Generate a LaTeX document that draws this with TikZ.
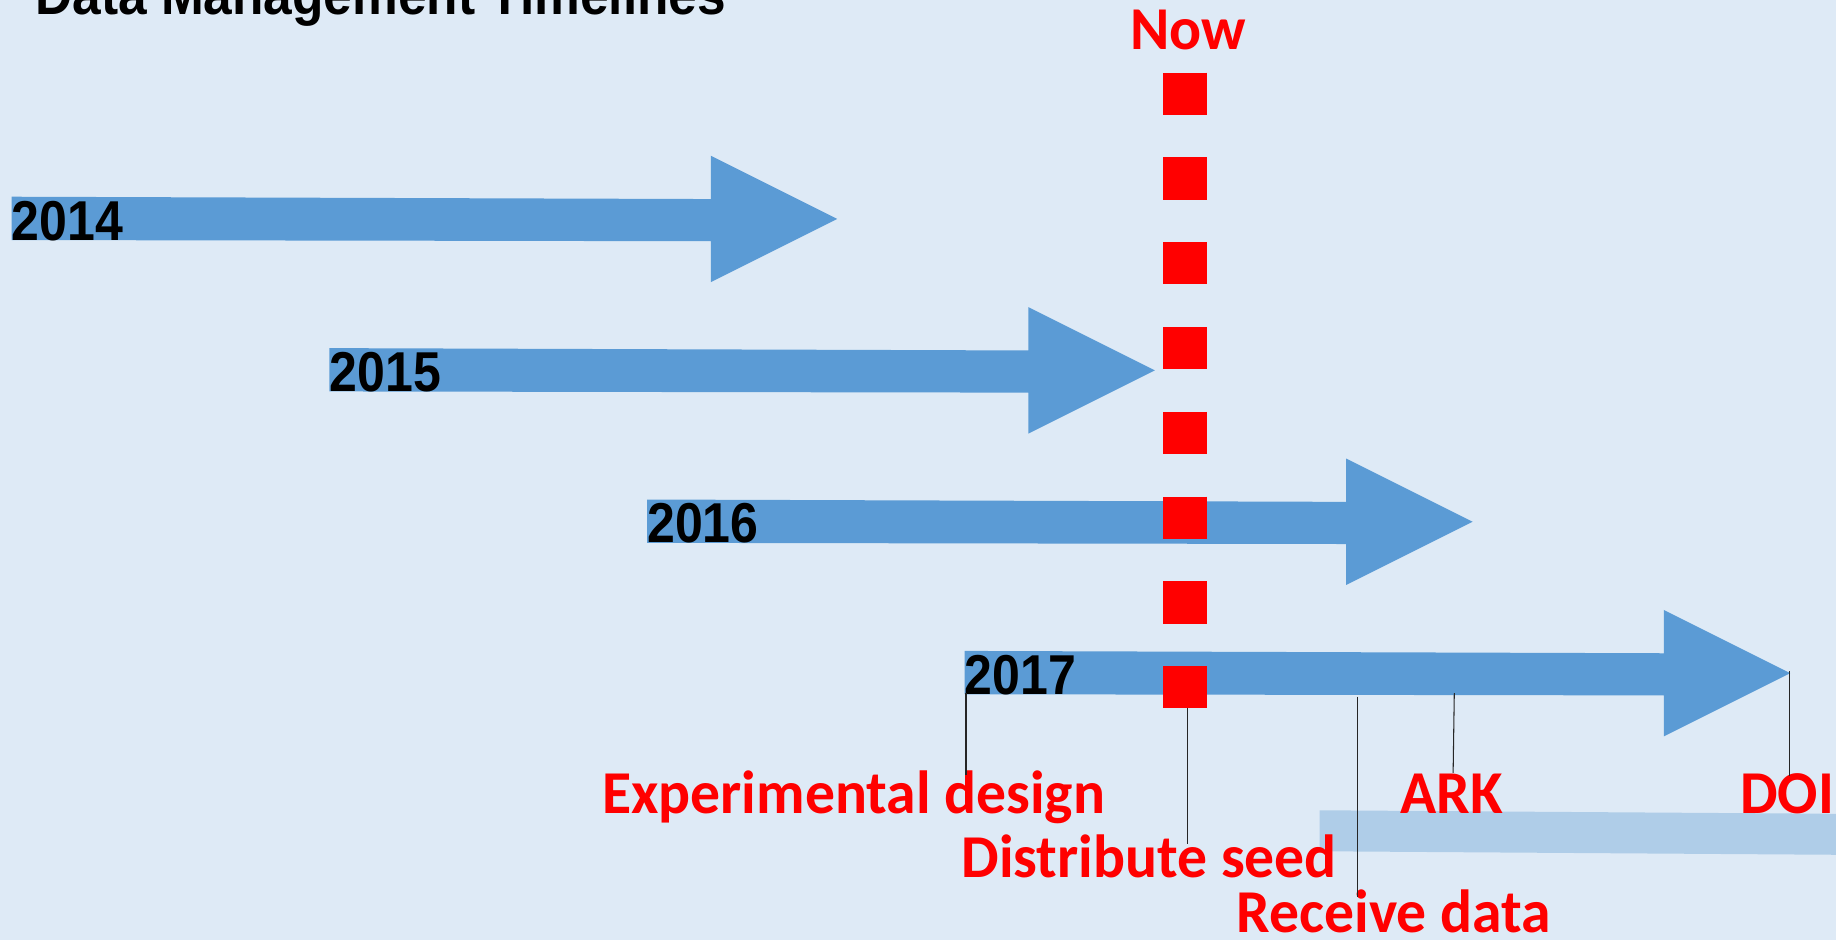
\documentclass[tikz,border=0pt]{standalone}
\usepackage{fontspec}
\setmainfont{Liberation Sans}
\newfontfamily\labfont{Carlito}
\definecolor{bg}{RGB}{222,234,246}
\definecolor{arrowblue}{RGB}{91,155,213}
\definecolor{paleblue}{RGB}{175,205,232}
\definecolor{nowred}{RGB}{255,0,0}
\tikzset{
  yearlab/.style={inner sep=0pt, anchor=base west, font=\bfseries\fontsize{48}{52}\selectfont, text=black},
  redlab/.style={inner sep=0pt, anchor=base west, font=\labfont\bfseries\fontsize{52}{56}\selectfont, text=nowred},
  titlelab/.style={inner sep=0pt, anchor=base west, font=\bfseries\fontsize{48}{52}\selectfont, text=black},
  conn/.style={draw=black!85, line width=0.9pt},
  nowline/.style={draw=nowred, line width=37pt, dash pattern=on 36pt off 36.43pt},
  yeararrow/.style={fill=arrowblue},
  palebar/.style={fill=paleblue}
}
\newcommand{\nx}[1]{\scalebox{0.89}[1]{#1}}
\newcommand{\tx}[1]{\scalebox{0.915}[1]{#1}}
\newcommand{\rx}[1]{\scalebox{0.98}[1]{#1}}
\begin{document}
\begin{tikzpicture}[x=1pt,y=-1pt]
\useasboundingbox (0,0) rectangle (1568,803);
\clip (0,0) rectangle (1568,803);
\fill[bg] (0,0) rectangle (1568,803);

% title
\node[titlelab] (title) at (30,12.5) {\tx{Data Management Timelines}};

% year arrows
\foreach \k/\yr in {0/2014,1/2015,2/2016,3/2017}{
  \begin{scope}[shift={(271.3*\k,129.3*\k)}]
    \fill[yeararrow] (10,168) -- (607,170) -- (607,133) -- (715,187) -- (607,241) -- (607,206) -- (10,205) -- cycle;
    \node[yearlab] (y\yr) at (10,205) {\nx{\yr}};
  \end{scope}
}

% pale bar
\fill[palebar] (1127,692) -- (1568,695) -- (1568,730) -- (1127,727) -- cycle;

% now line
\coordinate (nowtop) at (1012,62);
\coordinate (nowbot) at (1012,605);
\draw[nowline] (nowtop) -- (nowbot);
\node[redlab] (now) at (965,42) {\rx{Now}};

% labels
\node[redlab] (expl) at (514,695) {\rx{Experimental design}};
\node[redlab] (dist) at (821,749) {\rx{Distribute seed}};
\node[redlab] (recv) at (1056,796) {\rx{Receive data}};
\node[redlab] (ark) at (1196,695) {\rx{ARK}};
\node[redlab] (doi) at (1486,695) {\rx{DOI}};

% connector points
\coordinate (edA) at (825,592);  \coordinate (edB) at (825,662);
\coordinate (dsA) at (1014,605); \coordinate (dsB) at (1014,721);
\coordinate (rdA) at (1159,595); \coordinate (rdB) at (1159,766);
\coordinate (arA) at (1242,592); \coordinate (arB) at (1241,660);
\coordinate (doA) at (1528,573); \coordinate (doB) at (1528,663);

\draw[conn] (edA) -- (edB);
\draw[conn] (dsA) -- (dsB);
\draw[conn] (rdA) -- (rdB);
\draw[conn] (arA) -- (arB);
\draw[conn] (doA) -- (doB);
\end{tikzpicture}
\end{document}
